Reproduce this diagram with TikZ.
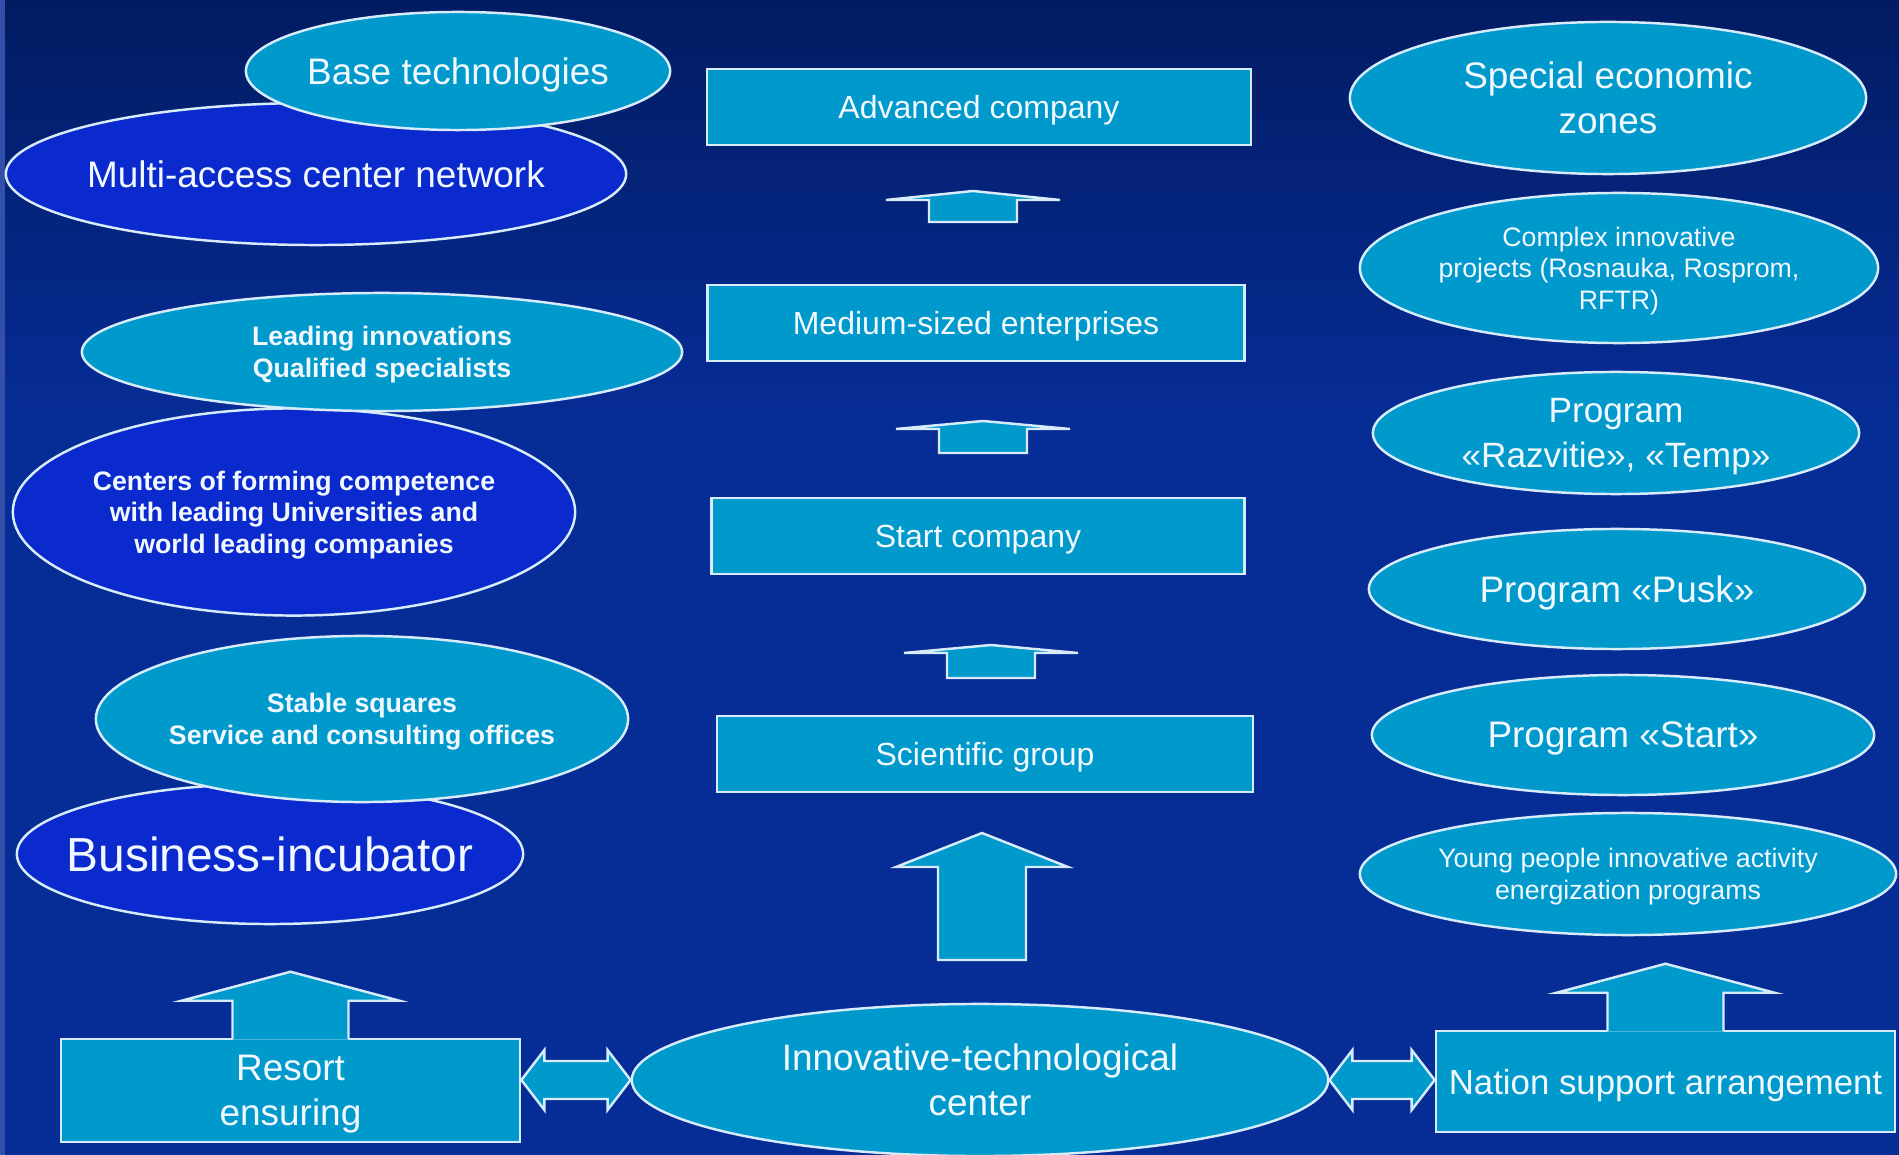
\documentclass[tikz,border=0pt]{standalone}
\usepackage{fontspec}
\setmainfont{Liberation Sans}
\usepackage{tikz}
\usetikzlibrary{shapes.geometric}
\usetikzlibrary{calc}

\definecolor{bgtop}{RGB}{2,28,98}
\definecolor{bgmain}{RGB}{6,44,150}
\definecolor{bgedge}{RGB}{50,80,170}
\definecolor{cyanfill}{RGB}{0,153,204}
\definecolor{bluefill}{RGB}{10,42,205}
\definecolor{rim}{RGB}{215,235,250}
\definecolor{ink}{RGB}{242,248,255}

\tikzset{
  bubble/.style={ellipse, draw=rim, line width=0.7pt, fill=cyanfill, text=ink,
    align=center, inner xsep=-0.3cm, inner ysep=0pt, text depth=0pt},
  darkbubble/.style={bubble, fill=bluefill},
  stage/.style={rectangle, draw=rim, line width=0.7pt, fill=cyanfill, text=ink,
    align=center, inner sep=0pt, text depth=0pt},
  blockarrow/.style={draw=rim, line width=0.7pt, fill=cyanfill},
  txtbig/.style={font=\fontsize{10.5}{12.8}\selectfont},
  txtnat/.style={font=\fontsize{9.9}{12}\selectfont},
  txtprog/.style={font=\fontsize{10}{12.8}\selectfont},
  txtmid/.style={font=\fontsize{9.1}{11}\selectfont},
  txtsmall/.style={font=\fontsize{7.6}{9}\selectfont},
  txtbold/.style={font=\fontsize{7.6}{9}\selectfont\bfseries},
  txthuge/.style={font=\fontsize{13.6}{16}\selectfont}
}

% up arrow: x, tip, head ends, bottom, head half, stem half
\newcommand{\upblock}[6]{\draw[blockarrow] ({#1-#5},#3) -- (#1,#2) -- ({#1+#5},#3)
  -- ({#1+#6},#3) -- ({#1+#6},#4) -- ({#1-#6},#4) -- ({#1-#6},#3) -- cycle;}
% arrow standing on top of a box
\newcommand{\baseup}[1]{%
  \fill[cyanfill] ($(#1.north)+(-58,2)$) -- ($(#1.north)+(-58,-37)$) -- ($(#1.north)+(-109,-37)$)
    -- ($(#1.north)+(0,-66)$) -- ($(#1.north)+(109,-37)$) -- ($(#1.north)+(58,-37)$)
    -- ($(#1.north)+(58,2)$) -- cycle;
  \draw[blockarrow, fill=none] ($(#1.north)+(-58,1.2)$) -- ($(#1.north)+(-58,-37)$)
    -- ($(#1.north)+(-109,-37)$) -- ($(#1.north)+(0,-66)$) -- ($(#1.north)+(109,-37)$)
    -- ($(#1.north)+(58,-37)$) -- ($(#1.north)+(58,1.2)$);}
% two-headed block arrow between two points
\newcommand{\twoway}[2]{\draw[blockarrow] (#1) -- ($(#1)+(23,-30)$) -- ($(#1)+(23,-19)$)
  -- ($(#2)+(-23,-19)$) -- ($(#2)+(-23,-30)$) -- (#2) -- ($(#2)+(-23,30)$)
  -- ($(#2)+(-23,19)$) -- ($(#1)+(23,19)$) -- ($(#1)+(23,30)$) -- cycle;}

\begin{document}
\begin{tikzpicture}[x=0.01cm, y=-0.01cm]
\useasboundingbox (0,0) rectangle (1899,1155);
\fill[bgmain] (0,0) rectangle (1899,1155);
\shade[top color=bgtop, bottom color=bgmain] (0,0) rectangle (1899,420);
\fill[bgedge] (0,0) rectangle (5,1155);

% left column
\node[darkbubble, txtbig, minimum width=6.2cm, minimum height=1.42cm] (mac) at (316,174) {Multi-access center network};
\node[bubble, txtbig, minimum width=4.24cm, minimum height=1.18cm] (base) at (458,71) {Base technologies};
\node[darkbubble, txtbold, minimum width=5.62cm, minimum height=2.07cm] (cfc) at (294,512)
  {Centers of forming competence\\with leading Universities and\\world leading companies};
\node[bubble, txtbold, minimum width=6cm, minimum height=1.18cm] (lead) at (382,352) {Leading innovations\\Qualified specialists};
\node[darkbubble, txthuge, minimum width=5.06cm, minimum height=1.4cm] (binc) at (270,854) {Business-incubator};
\node[bubble, txtbold, minimum width=5.32cm, minimum height=1.66cm] (stab) at (362,719) {Stable squares\\Service and consulting offices};

% middle column
\node[stage, txtmid, minimum width=5.44cm, minimum height=0.76cm] (adv) at (979,107) {Advanced company};
\node[stage, txtmid, minimum width=5.37cm, minimum height=0.76cm] (med) at (976,323) {Medium-sized enterprises};
\node[stage, txtmid, minimum width=5.33cm, minimum height=0.76cm] (stc) at (978,536) {Start company};
\node[stage, txtmid, minimum width=5.36cm, minimum height=0.76cm] (sg) at (985,754) {Scientific group};
\node[bubble, txtbig, minimum width=6.96cm, minimum height=1.52cm] (itc) at (980,1080) {Innovative-technological\\center};

\foreach \cx/\tip/\ends/\bot in {973/191/200/222, 983/421/429/453, 991/645/653/678}
  {\upblock{\cx}{\tip}{\ends}{\bot}{87}{44}}
\upblock{982}{833}{867}{960}{86}{44}

% right column
\node[bubble, txtbig, minimum width=5.16cm, minimum height=1.52cm] (sez) at (1608,98) {Special economic\\zones};
\node[bubble, txtsmall, minimum width=5.18cm, minimum height=1.5cm] (cip) at (1619,268)
  {Complex innovative\\projects (Rosnauka, Rosprom,\\RFTR)};
\node[bubble, txtprog, minimum width=4.86cm, minimum height=1.22cm] (raz) at (1616,433) {Program\\«Razvitie», «Temp»};
\node[bubble, txtbig, minimum width=4.96cm, minimum height=1.2cm] (pusk) at (1617,589) {Program «Pusk»};
\node[bubble, txtbig, minimum width=5.02cm, minimum height=1.2cm] (pst) at (1623,735) {Program «Start»};
\node[bubble, txtsmall, minimum width=5.36cm, minimum height=1.22cm] (young) at (1628,874)
  {Young people innovative activity\\energization programs};

% bottom row
\node[stage, txtbig, minimum width=4.59cm, minimum height=1.03cm] (rs) at (290.5,1090.5) {Resort\\ensuring};
\node[stage, txtnat, minimum width=4.59cm, minimum height=1.01cm] (nsa) at (1665.5,1081.5) {Nation support arrangement};
\baseup{rs}
\baseup{nsa}
\twoway{rs.east |- itc.west}{itc.west}
\twoway{itc.east}{nsa.west |- itc.east}

\end{tikzpicture}
\end{document}
